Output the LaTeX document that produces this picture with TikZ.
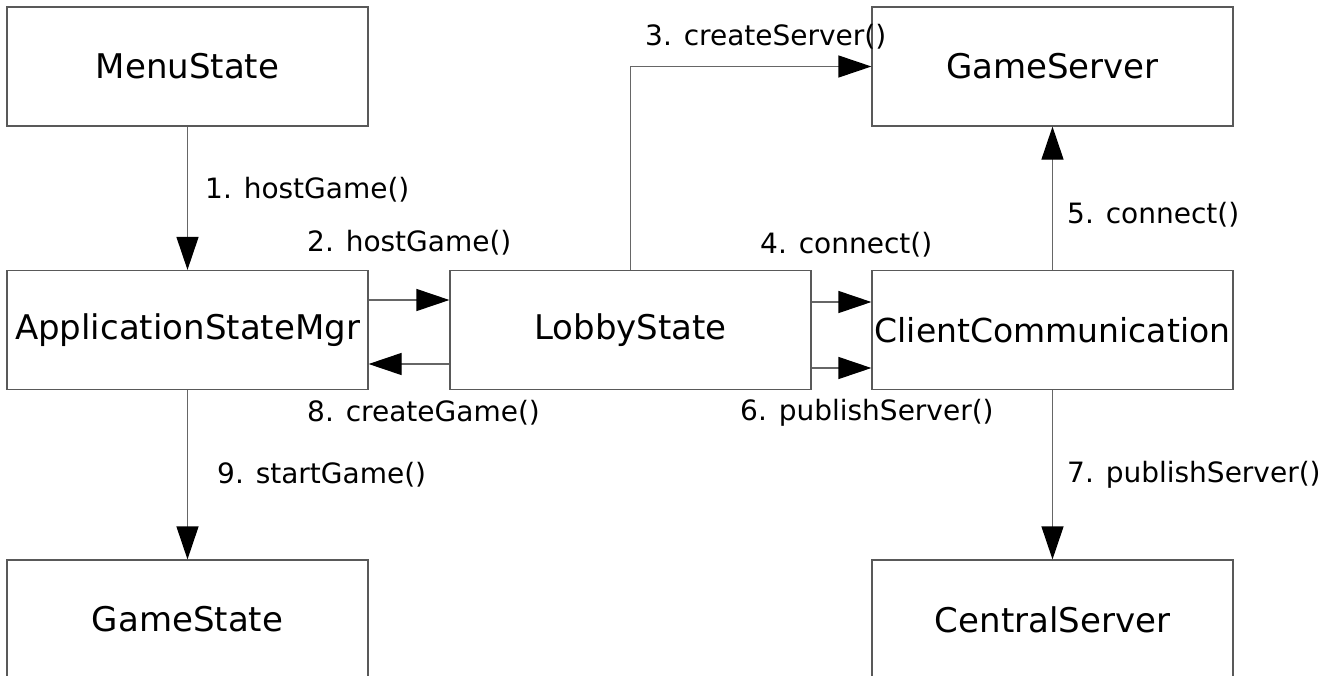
\documentclass[tikz,border=0pt]{standalone}
\usepackage{fontspec}
\setmainfont{DejaVu Sans}
\usetikzlibrary{arrows.meta}
\begin{document}
\begin{tikzpicture}[x=1pt, y=-1pt,
  obj/.style={draw=black!65, line width=1.2pt, rectangle,
    minimum width=361pt, minimum height=119pt, inner sep=0pt,
    font=\fontsize{34}{40}\selectfont},
  msg/.style={draw=black!60, line width=1.2pt,
    -{Triangle[length=33pt, width=22pt, color=black]}},
  lbl/.style={anchor=west, inner sep=0pt, font=\fontsize{28}{33}\selectfont}]
  \useasboundingbox (0,0) rectangle (1331,675);
  \clip (0,0) rectangle (1331,675);
  % objects
  \node[obj] (menu)  at (187.5, 66.5)  {MenuState};
  \node[obj] (gsrv)  at (1052.5, 66.5) {GameServer};
  \node[obj] (asm)   at (187.5, 330)   {ApplicationStateMgr};
  \node[obj] (lobby) at (630.5, 330)   {LobbyState};
  \node[obj, font=\fontsize{33}{40}\selectfont] (cc) at (1052.5, 330) {ClientCommunication};
  \node[obj] (gst)   at (187.5, 619.5) {GameState};
  \node[obj] (csrv)  at (1052.5, 619.5){CentralServer};
  % messages
  \draw[msg] (menu.south) -- (asm.north);
  \draw[msg] ([yshift=30pt]asm.east) -- ([yshift=30pt]lobby.west);
  \draw[msg] (lobby.north) |- (gsrv.west);
  \draw[msg] ([yshift=28pt]lobby.east) -- ([yshift=28pt]cc.west);
  \draw[msg] (cc.north) -- (gsrv.south);
  \draw[msg] ([yshift=-38pt]lobby.east) -- ([yshift=-38pt]cc.west);
  \draw[msg] (cc.south) -- (csrv.north);
  \draw[msg] ([yshift=-34pt]lobby.west) -- ([yshift=-34pt]asm.east);
  \draw[msg] (asm.south) -- (gst.north);
  % message labels
  \node[lbl] (l1) at (205, 190)  {1. hostGame()};
  \node[lbl] (l2) at (307, 243)  {2. hostGame()};
  \node[lbl] (l3) at (645, 37)   {3. createServer()};
  \node[lbl] (l4) at (760, 245)  {4. connect()};
  \node[lbl] (l5) at (1067, 215) {5. connect()};
  \node[lbl] (l6) at (740, 413)  {6. publishServer()};
  \node[lbl] (l7) at (1067, 475) {7. publishServer()};
  \node[lbl] (l8) at (307, 413)  {8. createGame()};
  \node[lbl] (l9) at (217, 475)  {9. startGame()};
\end{tikzpicture}
\end{document}
